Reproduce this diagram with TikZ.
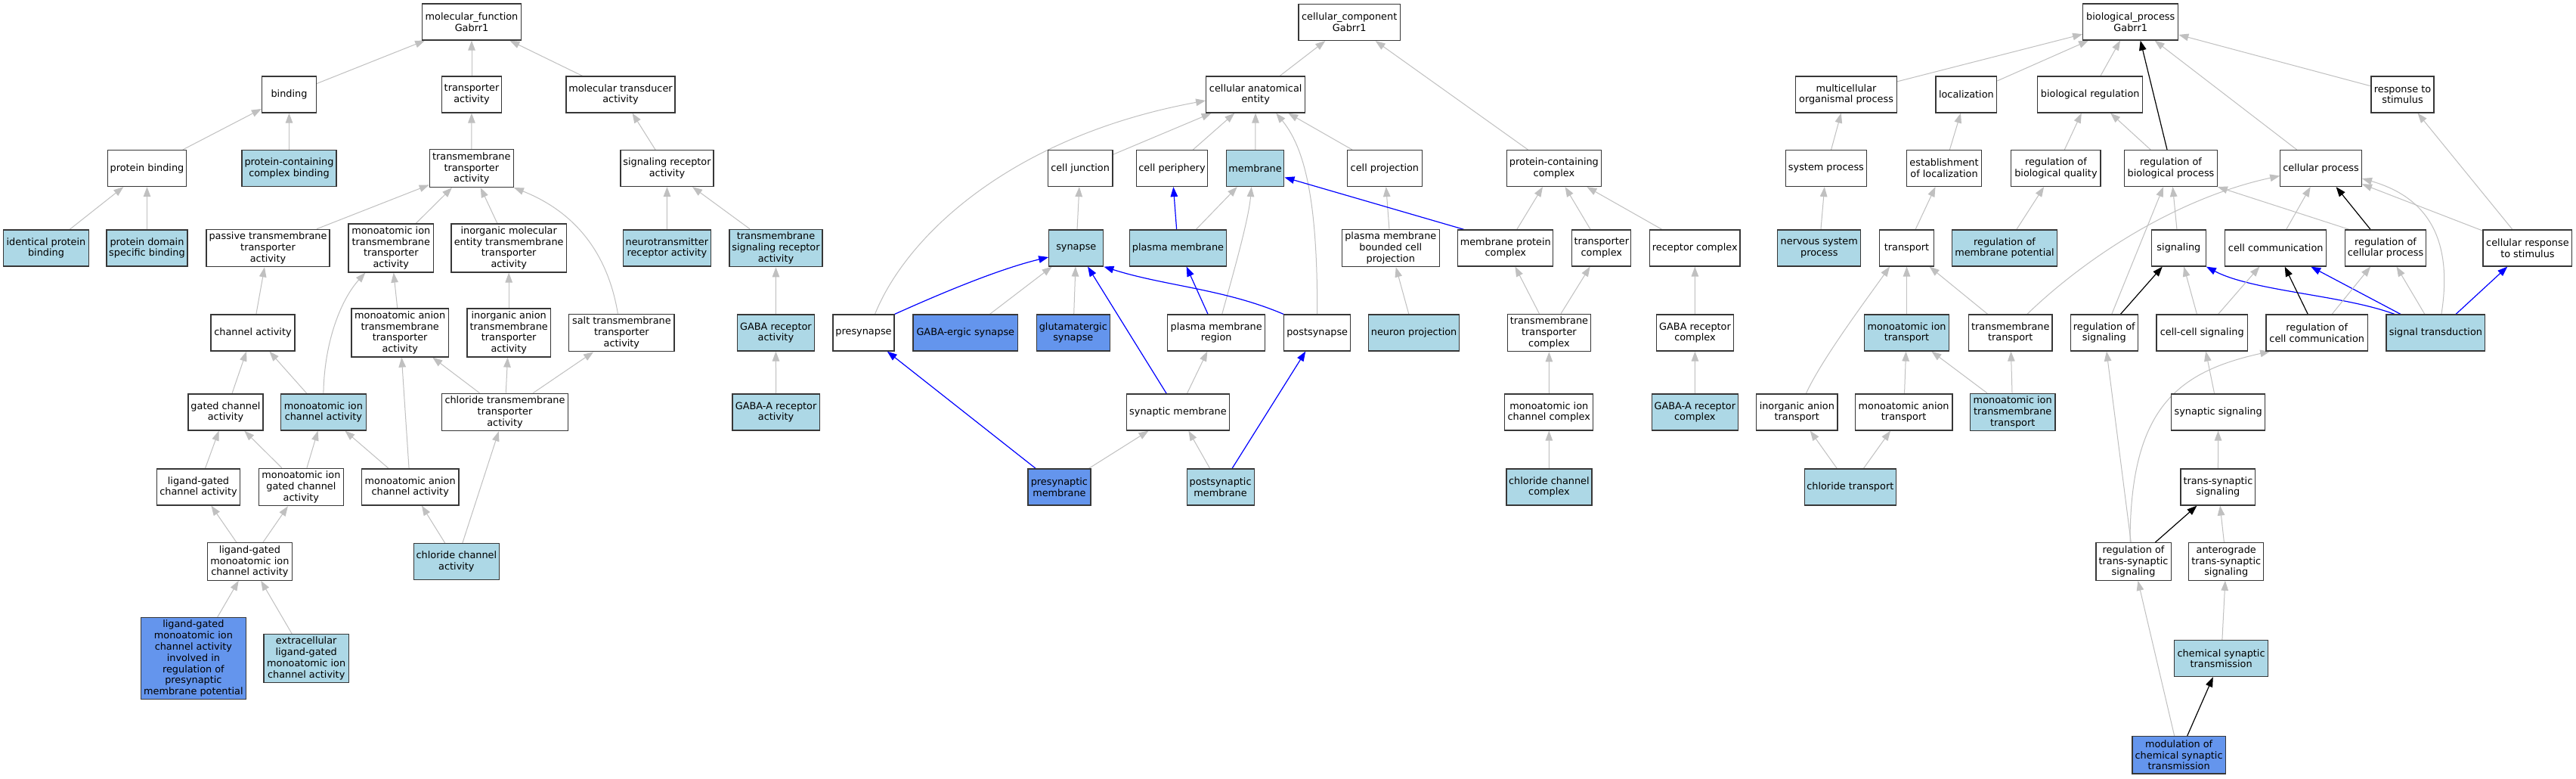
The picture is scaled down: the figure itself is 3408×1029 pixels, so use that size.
\documentclass[tikz,border=0pt]{standalone}
\usepackage{fontspec}
\setmainfont{DejaVu Sans}
\usetikzlibrary{arrows.meta}
\definecolor{lb}{HTML}{ADD8E6}
\definecolor{cb}{HTML}{6495ED}
\definecolor{eg}{RGB}{192,192,192}
\definecolor{bd}{RGB}{55,55,55}
\definecolor{eb}{RGB}{0,0,255}
\newcommand\gofont{\fontsize{12.85pt}{14.8pt}\selectfont}
\pgfdeclarelayer{bg}
\pgfsetlayers{bg,main}
\tikzset{
  box/.style={draw=bd, line width=1.2pt, fill=white, rectangle, inner sep=0pt, align=center, font=\gofont},
  lbox/.style={box, fill=lb},
  cbox/.style={box, fill=cb},
  sz/.style 2 args={minimum width=#1pt, minimum height=#2pt},
  ge/.style={draw=eg, line width=1.0pt, -{Triangle[length=13pt,width=9.5pt]}},
  be/.style={draw=eb, line width=1.2pt, -{Triangle[length=13pt,width=9.5pt]}},
  ke/.style={draw=black, line width=1.2pt, -{Triangle[length=13pt,width=9.5pt]}}
}
\begin{document}
\begin{tikzpicture}[x=1pt,y=-1pt]
\useasboundingbox (0,0) rectangle (3408,1029);
\begin{pgfonlayer}{bg}
\fill[white] (0,0) rectangle (3408,1029);
\end{pgfonlayer}
% ---------------- molecular function ----------------
\node[box, sz={131}{48}] (mf) at (624,29) {molecular\_function\\Gabrr1};
\node[box, sz={72}{48}] (bind) at (382.5,125) {binding};
\node[box, sz={78.5}{48}] (tact) at (624,125) {transporter\\activity};
\node[box, sz={144}{48}] (mtact) at (821,125) {molecular transducer\\activity};
\node[box, sz={104}{48}] (pbind) at (194.5,222.5) {protein binding};
\node[lbox, sz={125}{48}] (pccb) at (382.5,222.5) {protein-containing\\complex binding};
\node[box, sz={111}{50}] (tta) at (623.8,222.5) {transmembrane\\transporter\\activity};
\node[box, sz={123}{48}] (sra) at (882.5,222.5) {signaling receptor\\activity};
\node[lbox, sz={112.7}{48}] (ipb) at (61,328) {identical protein\\binding};
\node[lbox, sz={107}{48}] (pdsb) at (194.5,328) {protein domain\\specific binding};
\node[box, sz={163}{49.5}] (ptta) at (354.5,328) {passive transmembrane\\transporter\\activity};
\node[box, sz={112.5}{64}] (mitta) at (517.3,328) {monoatomic ion\\transmembrane\\transporter\\activity};
\node[box, sz={152.4}{64}] (imetta) at (673.2,328) {inorganic molecular\\entity transmembrane\\transporter\\activity};
\node[lbox, sz={115.6}{48}] (ntra) at (882.4,328) {neurotransmitter\\receptor activity};
\node[lbox, sz={123}{49.5}] (tsra) at (1026.5,328) {transmembrane\\signaling receptor\\activity};
\node[box, sz={111}{48}] (chact) at (334.5,440) {channel activity};
\node[box, sz={128.4}{64}] (matta) at (529.2,440) {monoatomic anion\\transmembrane\\transporter\\activity};
\node[box, sz={110.3}{64}] (iatta) at (673.2,440) {inorganic anion\\transmembrane\\transporter\\activity};
\node[box, sz={139.3}{49.5}] (salt) at (822.4,440) {salt transmembrane\\transporter\\activity};
\node[lbox, sz={101.8}{48}] (gra) at (1026.4,440) {GABA receptor\\activity};
\node[box, sz={99}{48}] (gca) at (298.5,545) {gated channel\\activity};
\node[lbox, sz={112.7}{48}] (mica) at (427.9,545) {monoatomic ion\\channel activity};
\node[box, sz={166.5}{49.5}] (chltta) at (668,545) {chloride transmembrane\\transporter\\activity};
\node[lbox, sz={115.2}{48}] (gara) at (1026.6,545) {GABA-A receptor\\activity};
\node[box, sz={110.5}{48}] (lgca) at (262.5,644) {ligand-gated\\channel activity};
\node[box, sz={112}{49.5}] (migca) at (398.4,644) {monoatomic ion\\gated channel\\activity};
\node[box, sz={128.5}{48}] (mach) at (542.7,644) {monoatomic anion\\channel activity};
\node[box, sz={112}{49.5}] (lgmica) at (330.4,742.5) {ligand-gated\\monoatomic ion\\channel activity};
\node[lbox, sz={113}{48}] (cca) at (603.9,742.5) {chloride channel\\activity};
\node[cbox, sz={138.8}{108}] (big) at (255.9,870.7) {ligand-gated\\monoatomic ion\\channel activity\\involved in\\regulation of\\presynaptic\\membrane potential};
\node[lbox, sz={112.3}{64}] (elg) at (405.2,870.5) {extracellular\\ligand-gated\\monoatomic ion\\channel activity};
% ---------------- cellular component ----------------
\node[box, sz={134.4}{48}] (cc) at (1785.2,29.5) {cellular\_component\\Gabrr1};
\node[box, sz={131}{48}] (cae) at (1661.2,125) {cellular anatomical\\entity};
\node[box, sz={85.8}{48}] (cj) at (1429.1,222.5) {cell junction};
\node[box, sz={94}{48}] (cper) at (1550.5,222.5) {cell periphery};
\node[lbox, sz={76.5}{48}] (memb) at (1660.6,222.5) {membrane};
\node[box, sz={99}{48}] (cproj) at (1831.9,222.5) {cell projection};
\node[box, sz={125.3}{48}] (pcc) at (2055.9,222.5) {protein-containing\\complex};
\node[lbox, sz={72}{48}] (syn) at (1423.8,328) {synapse};
\node[lbox, sz={128.6}{48}] (pm) at (1558.5,328) {plasma membrane};
\node[box, sz={129}{49.5}] (pmbcp) at (1839.8,328) {plasma membrane\\bounded cell\\projection};
\node[box, sz={126}{48}] (mpc) at (1991.8,328) {membrane protein\\complex};
\node[box, sz={78}{48}] (trc) at (2118.8,328) {transporter\\complex};
\node[box, sz={119.4}{48}] (rc) at (2242.3,328) {receptor complex};
\node[box, sz={81}{48}] (presyn) at (1142.5,440) {presynapse};
\node[cbox, sz={138.5}{48}] (gabasyn) at (1277.3,440) {GABA-ergic synapse};
\node[cbox, sz={97}{48}] (glusyn) at (1419.8,440) {glutamatergic\\synapse};
\node[box, sz={129}{48}] (pmr) at (1609.2,440) {plasma membrane\\region};
\node[box, sz={88}{48}] (postsyn) at (1742.7,440) {postsynapse};
\node[lbox, sz={120}{48}] (np) at (1870.6,440) {neuron projection};
\node[box, sz={110}{49.5}] (ttc) at (2049.4,440) {transmembrane\\transporter\\complex};
\node[box, sz={101.6}{48}] (grc) at (2242.5,440) {GABA receptor\\complex};
\node[box, sz={136.3}{48}] (synm) at (1558.5,545) {synaptic membrane};
\node[box, sz={117}{48}] (micc) at (2049.3,545) {monoatomic ion\\channel complex};
\node[lbox, sz={114}{48}] (garc) at (2242.3,545) {GABA-A receptor\\complex};
\node[cbox, sz={83}{48}] (presynm) at (1401.4,644) {presynaptic\\membrane};
\node[lbox, sz={89}{48}] (postsynm) at (1614.6,644) {postsynaptic\\membrane};
\node[lbox, sz={113}{48}] (ccc) at (2049.4,644) {chloride channel\\complex};
% ---------------- biological process ----------------
\node[box, sz={126}{48}] (bp) at (2818.7,29) {biological\_process\\Gabrr1};
\node[box, sz={133.6}{48}] (mop) at (2442.5,125) {multicellular\\organismal process};
\node[box, sz={80.8}{48}] (loc) at (2601.4,125) {localization};
\node[box, sz={139}{48}] (breg) at (2765.2,125) {biological regulation};
\node[box, sz={83}{48}] (rts) at (3178.5,125) {response to\\stimulus};
\node[box, sz={107.5}{48}] (sp) at (2415.9,222.5) {system process};
\node[box, sz={99}{48}] (eol) at (2572,222.5) {establishment\\of localization};
\node[box, sz={118.3}{48}] (rbq) at (2719.9,222.5) {regulation of\\biological quality};
\node[box, sz={122.5}{48}] (rbp) at (2872,222.5) {regulation of\\biological process};
\node[box, sz={107.6}{48}] (cp) at (3070.6,222.5) {cellular process};
\node[lbox, sz={110}{48}] (nsp) at (2406.8,328) {nervous system\\process};
\node[box, sz={72.2}{48}] (tr) at (2522.5,328) {transport};
\node[lbox, sz={139}{48}] (rmp) at (2652,328) {regulation of\\membrane potential};
\node[box, sz={71.8}{48}] (sig) at (2882.4,328) {signaling};
\node[box, sz={134}{48}] (ccom) at (3010.7,328) {cell communication};
\node[box, sz={107.3}{48}] (rcp) at (3156,328) {regulation of\\cellular process};
\node[box, sz={117.7}{48}] (crs) at (3343.9,328) {cellular response\\to stimulus};
\node[lbox, sz={112.2}{48}] (mit) at (2522.5,440) {monoatomic ion\\transport};
\node[box, sz={110.4}{48}] (tmt) at (2659.8,440) {transmembrane\\transport};
\node[box, sz={89}{48}] (ros) at (2783.8,440) {regulation of\\signaling};
\node[box, sz={120.3}{48}] (ccs) at (2913.2,440) {cell-cell signaling};
\node[box, sz={134.4}{48}] (rcc) at (3065.2,440) {regulation of\\cell communication};
\node[lbox, sz={130.8}{48}] (st) at (3222.4,440) {signal transduction};
\node[box, sz={107.4}{48}] (iat) at (2377.3,545) {inorganic anion\\transport};
\node[box, sz={128.6}{48}] (mat) at (2518.6,545) {monoatomic anion\\transport};
\node[lbox, sz={112.6}{49.5}] (mitt) at (2662.7,545) {monoatomic ion\\transmembrane\\transport};
\node[box, sz={123.5}{48}] (ssig) at (2934.6,545) {synaptic signaling};
\node[lbox, sz={120.7}{48}] (clt) at (2447.8,644) {chloride transport};
\node[box, sz={98.9}{48}] (tss) at (2934.4,644) {trans-synaptic\\signaling};
\node[box, sz={99.2}{49.5}] (rtss) at (2822.5,742.5) {regulation of\\trans-synaptic\\signaling};
\node[box, sz={98.9}{49.5}] (ats) at (2945.2,742.5) {anterograde\\trans-synaptic\\signaling};
\node[lbox, sz={123.6}{48}] (cst) at (2938.6,870.6) {chemical synaptic\\transmission};
\node[cbox, sz={123.3}{49.5}] (mcst) at (2882.6,998.2) {modulation of\\chemical synaptic\\transmission};
% ---------------- edges ----------------
\begin{pgfonlayer}{bg}
% MF
\draw[ge] (bind) -- (mf);
\draw[ge] (tact) -- (mf);
\draw[ge] (mtact) -- (mf);
\draw[ge] (pbind) -- (bind);
\draw[ge] (pccb) -- (bind);
\draw[ge] (ipb) -- (pbind);
\draw[ge] (pdsb) -- (pbind);
\draw[ge] (tta) -- (tact);
\draw[ge] (sra) -- (mtact);
\draw[ge] (ptta) -- (tta);
\draw[ge] (mitta) -- (tta);
\draw[ge] (imetta) -- (tta);
\draw[ge] ([xshift=-5pt]salt.north) .. controls (800,310) and (735,270) .. (tta.south east);
\draw[ge] (ntra) -- (sra);
\draw[ge] (tsra) -- (sra);
\draw[ge] (gra) -- (tsra);
\draw[ge] (gara) -- (gra);
\draw[ge] (chact) -- (ptta);
\draw[ge] (matta) -- (mitta);
\draw[ge] (iatta) -- (imetta);
\draw[ge] (gca) -- (chact);
\draw[ge] (mica) -- (chact);
\draw[ge] (mica.north) .. controls (429,450) and (452,395) .. ([xshift=-34pt]mitta.south);
\draw[ge] (chltta) -- (matta);
\draw[ge] (chltta) -- (iatta);
\draw[ge] (chltta) -- (salt);
\draw[ge] (mach) -- (mica);
\draw[ge] (mach) -- (matta);
\draw[ge] (lgca) -- (gca);
\draw[ge] (migca) -- (gca);
\draw[ge] (migca) -- (mica);
\draw[ge] (lgmica) -- (lgca);
\draw[ge] (lgmica) -- (migca);
\draw[ge] (big) -- (lgmica);
\draw[ge] (elg) -- (lgmica);
\draw[ge] (cca) -- (mach);
\draw[ge] (cca) -- (chltta);
% CC
\draw[ge] (cae) -- (cc);
\draw[ge] (pcc) -- (cc);
\draw[ge] (cj) -- (cae);
\draw[ge] (cper) -- (cae);
\draw[ge] (memb) -- (cae);
\draw[ge] (cproj) -- (cae);
\draw[ge] ([xshift=15pt]presyn.north) .. controls (1200,310) and (1340,180) .. ([yshift=-8pt]cae.west);
\draw[ge] (postsyn.north) .. controls (1743,280) and (1730,200) .. ([xshift=27pt]cae.south);
\draw[ge] (syn) -- (cj);
\draw[be] (pm) -- (cper);
\draw[ge] (pm) -- (memb);
\draw[ge] (pmbcp) -- (cproj);
\draw[be] ([xshift=-55pt]mpc.north) -- ([yshift=-12pt]memb.east);
\draw[ge] (mpc) -- (pcc);
\draw[ge] (trc) -- (pcc);
\draw[ge] (rc) -- (pcc);
\draw[be] (presyn.north east) .. controls (1240,390) and (1320,356) .. ([yshift=-12pt]syn.west);
\draw[ge] (gabasyn) -- (syn);
\draw[ge] (glusyn) -- (syn);
\draw[be] (pmr) -- (pm);
\draw[ge] ([xshift=7.5pt]pmr.north) .. controls (1632,360) and (1652,290) .. ([xshift=-5pt]memb.south);
\draw[be] (postsyn.north west) .. controls (1620,382) and (1540,378) .. (syn.south east);
\draw[ge] (np) -- (pmbcp);
\draw[ge] (ttc) -- (mpc);
\draw[ge] (ttc) -- (trc);
\draw[ge] (grc) -- (rc);
\draw[be] (synm) -- (syn);
\draw[ge] (synm) -- (pmr);
\draw[be] (presynm) -- (presyn);
\draw[ge] (presynm) -- (synm);
\draw[ge] (postsynm) -- (synm);
\draw[be] (postsynm) -- (postsyn);
\draw[ge] (micc) -- (ttc);
\draw[ge] (garc) -- (grc);
\draw[ge] (ccc) -- (micc);
% BP
\draw[ge] (mop) -- (bp);
\draw[ge] (loc) -- (bp);
\draw[ge] (breg) -- (bp);
\draw[ke] ([xshift=-5pt]rbp.north) -- ([xshift=13pt]bp.south);
\draw[ge] (cp) -- (bp);
\draw[ge] (rts) -- (bp);
\draw[ge] (sp) -- (mop);
\draw[ge] (eol) -- (loc);
\draw[ge] (rbq) -- (breg);
\draw[ge] (rbp) -- (breg);
\draw[ge] (nsp) -- (sp);
\draw[ge] (tr) -- (eol);
\draw[ge] (rmp) -- (rbq);
\draw[ge] (mit) -- (tr);
\draw[ge] (tmt) -- (tr);
\draw[ge] ([xshift=12pt]iat.north) .. controls (2410,475) and (2470,395) .. ([xshift=-22.5pt]tr.south);
\draw[ge] ([xshift=22pt]tmt.north) .. controls (2760,340) and (2880,262) .. ([yshift=-10pt]cp.west);
\draw[ge] (ros) -- (rbp);
\draw[ge] (sig) -- (rbp);
\draw[ge] ([xshift=-48pt]rcp.north) -- (rbp.south east);
\draw[ke] (rcp) -- (cp);
\draw[ge] (ccom) -- (cp);
\draw[ge] (crs) -- (cp);
\draw[ge] (crs) -- (rts);
\draw[ge] ([xshift=7.5pt]st.north) .. controls (3245,320) and (3215,262) .. ([yshift=-13.5pt]cp.east);
\draw[ge] (st) -- (rcp);
\draw[be] (st) -- (crs);
\draw[be] (st) -- (ccom);
\draw[be] ([xshift=-54.5pt]st.north) .. controls (3100,390) and (2980,385) .. (sig.south east);
\draw[ge] (ccs) -- (sig);
\draw[ge] (ccs) -- (ccom);
\draw[ke] (rcc) -- (ccom);
\draw[ge] (rcc) -- (rcp);
\draw[ke] (ros) -- (sig);
\draw[ge] (rtss) -- (ros);
\draw[ge] ([xshift=-4.5pt]rtss.north) .. controls (2818,540) and (2880,492) .. ([xshift=-62pt]rcc.south);
\draw[ke] (rtss) -- (tss);
\draw[ge] (ssig) -- (ccs);
\draw[ge] (tss) -- (ssig);
\draw[ge] (ats) -- (tss);
\draw[ge] (cst) -- (ats);
\draw[ke] (mcst) -- (cst);
\draw[ge] (mcst) -- (rtss);
\draw[ge] (mat) -- (mit);
\draw[ge] (mitt) -- (mit);
\draw[ge] (mitt) -- (tmt);
\draw[ge] (clt) -- (iat);
\draw[ge] (clt) -- (mat);
\end{pgfonlayer}
\end{tikzpicture}
\end{document}
